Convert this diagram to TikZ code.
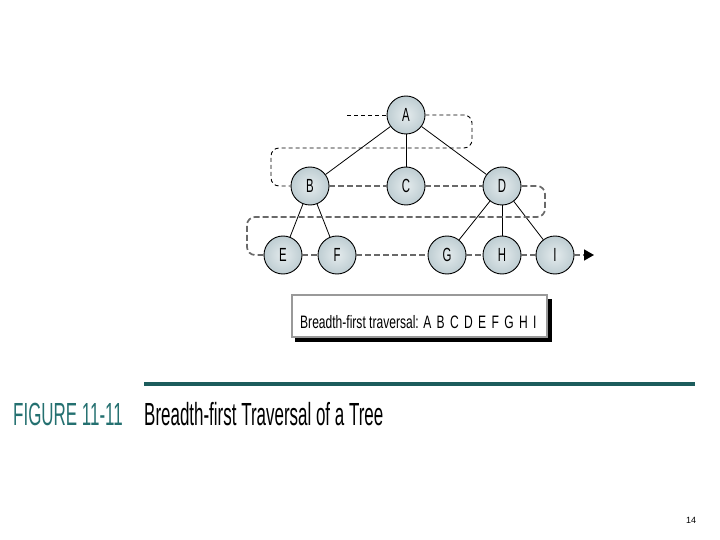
\documentclass[tikz,border=0pt]{standalone}
\usepackage{fontspec}
\usepackage{tikz}
\usetikzlibrary{arrows.meta,calc}
\newfontfamily\nodefont[FakeStretch=0.6]{Liberation Sans}
\newfontfamily\boxfont[FakeStretch=0.67]{Liberation Sans}
\newfontfamily\capfont[FakeStretch=0.53]{Liberation Sans}
\definecolor{nodecol}{RGB}{190,205,210}
\definecolor{nodelite}{RGB}{228,235,237}
\definecolor{levelcol}{RGB}{105,105,105}
\definecolor{tealcol}{RGB}{28,92,92}
\definecolor{figcol}{RGB}{36,112,112}

\begin{document}
\begin{tikzpicture}[x=1pt,y=-1pt,
  tnode/.style={circle,draw=black,line width=0.9pt,minimum size=38pt,inner sep=0pt,
    inner color=nodelite,outer color=nodecol,font=\nodefont\fontsize{19}{19}\selectfont},
  edge/.style={black,line width=0.8pt},
  toplevel/.style={black,line width=0.9pt,dash pattern=on 4pt off 3pt,rounded corners=8pt},
  lowlevel/.style={levelcol,line width=1.7pt,dash pattern=on 6pt off 3pt,rounded corners=8pt}]
\useasboundingbox (0,0) rectangle (720,540);
% tree
\node[tnode] (A) at (406,115) {A};
\node[tnode] (B) at (310,186) {B};
\node[tnode] (C) at (406,186) {C};
\node[tnode] (D) at (502,186) {D};
\node[tnode] (E) at (283,255) {E};
\node[tnode] (F) at (337,255) {F};
\node[tnode] (G) at (447,255) {G};
\node[tnode] (H) at (502,255) {H};
\node[tnode] (I) at (555,255) {I};
\foreach \p/\c in {A/B,A/C,A/D,B/E,B/F,D/G,D/H,D/I}
  \draw[edge] (\p) -- (\c);
% traversal order
\coordinate (start) at (347,115);
\coordinate (finish) at (594,255);
\draw[toplevel] (start) -- (A.west);
\draw[toplevel] (A.east) -- (472,115) -- (472,148) -- (271,148) -- (271,186) -- (B.west);
\draw[lowlevel] (B.east) -- (C.west);
\draw[lowlevel] (C.east) -- (D.west);
\draw[lowlevel] (D.east) -- (545,186) -- (545,217) -- (247,217) -- (247,255) -- (E.west);
\foreach \a/\b in {E/F,F/G,G/H,H/I}
  \draw[lowlevel] (\a.east) -- (\b.west);
\draw[lowlevel,-{Triangle[length=10pt,width=11pt,color=black]}] (I.east) -- (finish);
% result box
\fill[black] (295,299) rectangle (552,342);
\draw[fill=white,draw=gray!80,line width=2pt] (292,295) rectangle (547,337);
\node[anchor=base west,inner sep=0pt,font=\boxfont\fontsize{18}{18}\selectfont] (order) at (300,328)
  {Breadth-first traversal: A\hspace{2pt} B\hspace{2pt} C\hspace{2pt} D\hspace{2pt} E\hspace{2pt} F\hspace{2pt} G\hspace{2pt} H\hspace{2pt} I};
% caption
\draw[tealcol,line width=3.5pt] (144,384) -- (695,384);
\node[anchor=base west,inner sep=0pt,text=figcol,font=\capfont\fontsize{32}{32}\selectfont] (fig) at (13,425) {FIGURE 11-11};
\node[anchor=base west,inner sep=0pt,font=\capfont\fontsize{32}{32}\selectfont] (title) at (144,425) {Breadth-first Traversal of a Tree};
\node[font=\fontspec{Liberation Sans}\fontsize{9}{9}\selectfont] (page) at (691,520) {14};
\end{tikzpicture}
\end{document}
